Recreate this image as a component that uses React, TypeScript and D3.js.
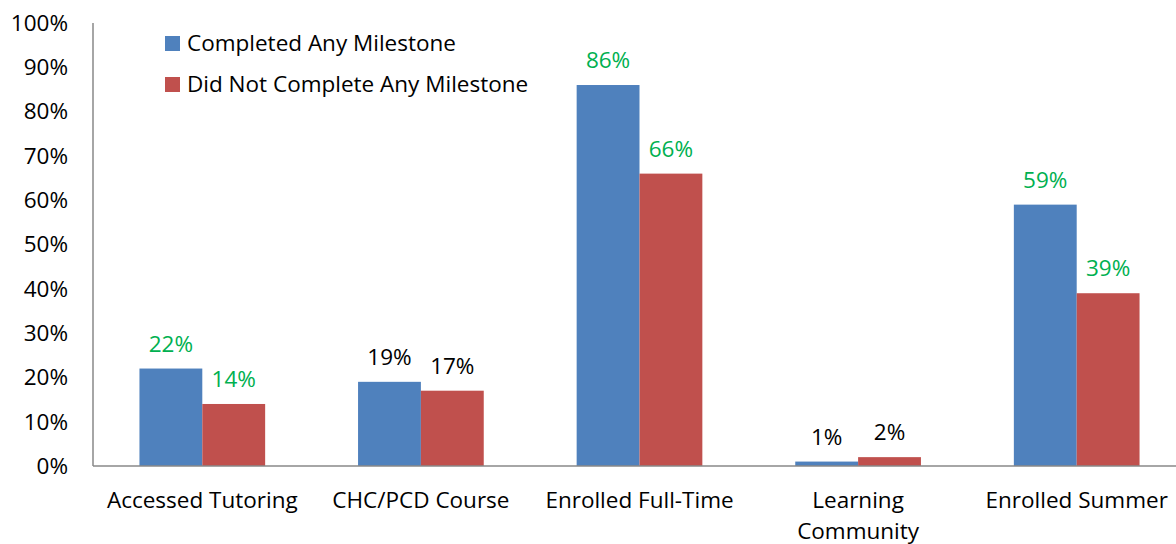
import React from "react";
import * as d3 from "d3";

const categories = [
  ["Accessed Tutoring"],
  ["CHC/PCD Course"],
  ["Enrolled Full-Time"],
  ["Learning", "Community"],
  ["Enrolled Summer"],
];
const seriesNames = ["Completed Any Milestone", "Did Not Complete Any Milestone"];
const completed = [0.22, 0.19, 0.86, 0.01, 0.59];
const notCompleted = [0.14, 0.17, 0.66, 0.02, 0.39];
const completedLabelGreen = [true, false, true, false, true];
const notCompletedLabelGreen = [true, false, true, false, true];
const yTicks = [0, 0.1, 0.2, 0.3, 0.4, 0.5, 0.6, 0.7, 0.8, 0.9, 1.0];

const colors = ["#4F81BD", "#C0504D"];
const green = "#00B050";
const font = "'Open Sans', 'Liberation Sans', sans-serif";
const fs = 22.5;

export default function App() {
  const W = 1176, H = 544;
  const left = 93, right = 1186, top = 23, bottom = 466;
  const x = d3.scaleBand<number>().domain(d3.range(categories.length)).range([left, right]).paddingInner(0.425).paddingOuter(0.2125);
  const x1 = d3.scaleBand<number>().domain([0, 1]).range([0, x.bandwidth()]);
  const y = d3.scaleLinear().domain([0, 1]).range([bottom, top]);
  const fmt = d3.format(".0%");
  const series = [completed, notCompleted];
  const greens = [completedLabelGreen, notCompletedLabelGreen];

  return (
    <svg width={W} height={H} style={{ position: "absolute", left: 0, top: 0, background: "#fff" }} fontFamily={font}>
      {yTicks.map((t) => (
        <text key={t} x={68} y={y(t)} dy="0.35em" textAnchor="end" fontSize={fs} fill="#000">
          {fmt(t)}
        </text>
      ))}
      {series.map((vals, s) =>
        vals.map((v, i) => {
          const bx = (x(i) as number) + (x1(s) as number);
          return (
            <g key={`${s}-${i}`}>
              <rect x={bx} y={y(v)} width={x1.bandwidth()} height={bottom - y(v)} fill={colors[s]} />
              <text x={bx + x1.bandwidth() / 2} y={y(v) - 17} textAnchor="middle" fontSize={fs} fill={greens[s][i] ? green : "#000"}>
                {fmt(v)}
              </text>
            </g>
          );
        })
      )}
      <line x1={left} x2={W} y1={bottom} y2={bottom} stroke="#888" strokeWidth={1.5} />
      <line x1={left} x2={left} y1={top} y2={bottom} stroke="#888" strokeWidth={1.5} />
      {categories.map((lines, i) => (
        <text key={i} x={(x(i) as number) + x.bandwidth() / 2} y={508} textAnchor="middle" fontSize={fs} fill="#000">
          {lines.map((l, j) => (
            <tspan key={j} x={(x(i) as number) + x.bandwidth() / 2} dy={j === 0 ? 0 : 31}>
              {l}
            </tspan>
          ))}
        </text>
      ))}
      {seriesNames.map((n, s) => (
        <g key={n}>
          <rect x={165} y={36 + s * 41} width={15} height={15} fill={colors[s]} />
          <text x={187} y={43.5 + s * 41} dy="0.35em" fontSize={fs} fill="#000">
            {n}
          </text>
        </g>
      ))}
    </svg>
  );
}
